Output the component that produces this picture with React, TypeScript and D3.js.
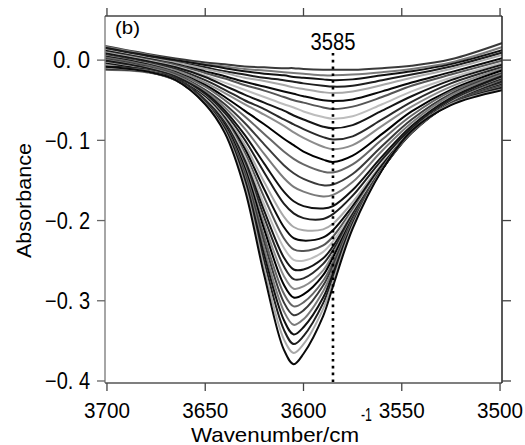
import React from "react";
import * as d3 from "d3";

// Wavenumber sampling grid (cm^-1) for every spectrum below
const wavenumbers = [3702, 3680, 3665, 3650, 3640, 3630, 3620, 3610, 3605, 3600, 3590, 3585, 3575, 3560, 3545, 3525, 3498];

// Absorbance spectra, from the shallowest to the deepest
const spectra: number[][] = [
  [0.018, 0.008, 0.002, -0.003, -0.005, -0.008, -0.009, -0.010, -0.010, -0.011, -0.012, -0.012, -0.012, -0.010, -0.007, 0.001, 0.022],
  [0.017, 0.007, 0.000, -0.005, -0.008, -0.011, -0.013, -0.015, -0.016, -0.017, -0.019, -0.019, -0.018, -0.015, -0.011, -0.003, 0.017],
  [0.016, 0.006, 0.000, -0.006, -0.010, -0.014, -0.017, -0.019, -0.021, -0.022, -0.024, -0.025, -0.024, -0.019, -0.014, -0.005, 0.013],
  [0.015, 0.005, -0.002, -0.009, -0.014, -0.018, -0.022, -0.025, -0.027, -0.029, -0.032, -0.033, -0.032, -0.025, -0.018, -0.008, 0.010],
  [0.013, 0.003, -0.003, -0.011, -0.016, -0.022, -0.026, -0.031, -0.034, -0.036, -0.040, -0.041, -0.039, -0.031, -0.022, -0.011, 0.007],
  [0.012, 0.002, -0.005, -0.014, -0.020, -0.027, -0.033, -0.039, -0.042, -0.045, -0.050, -0.051, -0.049, -0.039, -0.028, -0.015, 0.003],
  [0.011, 0.001, -0.006, -0.016, -0.023, -0.031, -0.038, -0.046, -0.050, -0.053, -0.059, -0.061, -0.058, -0.046, -0.032, -0.018, 0.000],
  [0.010, 0.000, -0.008, -0.019, -0.028, -0.037, -0.046, -0.055, -0.059, -0.064, -0.071, -0.073, -0.070, -0.055, -0.039, -0.022, -0.003],
  [0.009, -0.001, -0.009, -0.021, -0.032, -0.043, -0.053, -0.063, -0.069, -0.074, -0.083, -0.085, -0.081, -0.063, -0.045, -0.025, -0.005],
  [0.007, -0.003, -0.011, -0.025, -0.037, -0.050, -0.061, -0.074, -0.080, -0.086, -0.096, -0.099, -0.095, -0.074, -0.052, -0.029, -0.008],
  [0.006, -0.004, -0.013, -0.028, -0.041, -0.055, -0.068, -0.082, -0.090, -0.097, -0.108, -0.111, -0.106, -0.082, -0.058, -0.033, -0.010],
  [0.005, -0.005, -0.015, -0.031, -0.046, -0.063, -0.080, -0.098, -0.106, -0.114, -0.124, -0.127, -0.119, -0.092, -0.064, -0.037, -0.012],
  [0.004, -0.006, -0.016, -0.033, -0.050, -0.070, -0.092, -0.114, -0.123, -0.130, -0.139, -0.140, -0.130, -0.099, -0.069, -0.039, -0.015],
  [0.002, -0.008, -0.018, -0.037, -0.055, -0.078, -0.105, -0.131, -0.141, -0.148, -0.156, -0.155, -0.142, -0.107, -0.074, -0.042, -0.016],
  [0.001, -0.009, -0.019, -0.039, -0.059, -0.085, -0.117, -0.147, -0.158, -0.164, -0.170, -0.168, -0.152, -0.113, -0.078, -0.044, -0.017],
  [0.000, -0.010, -0.021, -0.041, -0.063, -0.093, -0.129, -0.164, -0.176, -0.182, -0.185, -0.182, -0.162, -0.120, -0.082, -0.047, -0.019],
  [-0.001, -0.011, -0.021, -0.043, -0.066, -0.099, -0.140, -0.179, -0.191, -0.197, -0.198, -0.192, -0.169, -0.124, -0.085, -0.049, -0.021],
  [-0.003, -0.012, -0.023, -0.045, -0.070, -0.105, -0.152, -0.195, -0.208, -0.212, -0.211, -0.204, -0.177, -0.129, -0.088, -0.051, -0.022],
  [-0.004, -0.013, -0.024, -0.046, -0.072, -0.110, -0.161, -0.208, -0.222, -0.225, -0.221, -0.212, -0.182, -0.131, -0.089, -0.051, -0.023],
  [-0.005, -0.014, -0.025, -0.048, -0.074, -0.115, -0.171, -0.222, -0.236, -0.238, -0.231, -0.220, -0.186, -0.134, -0.090, -0.052, -0.024],
  [-0.006, -0.014, -0.025, -0.048, -0.076, -0.119, -0.180, -0.234, -0.249, -0.250, -0.239, -0.226, -0.189, -0.135, -0.090, -0.053, -0.026],
  [-0.008, -0.012, -0.022, -0.050, -0.078, -0.124, -0.188, -0.246, -0.261, -0.261, -0.247, -0.232, -0.192, -0.136, -0.091, -0.054, -0.026],
  [-0.009, -0.012, -0.022, -0.050, -0.079, -0.127, -0.196, -0.257, -0.273, -0.272, -0.254, -0.237, -0.194, -0.136, -0.090, -0.054, -0.027],
  [-0.010, -0.013, -0.023, -0.051, -0.081, -0.131, -0.204, -0.269, -0.285, -0.282, -0.262, -0.242, -0.196, -0.136, -0.090, -0.054, -0.029],
  [-0.011, -0.014, -0.023, -0.051, -0.081, -0.134, -0.211, -0.280, -0.296, -0.292, -0.268, -0.246, -0.197, -0.136, -0.090, -0.054, -0.030],
  [-0.012, -0.015, -0.024, -0.052, -0.083, -0.138, -0.220, -0.291, -0.307, -0.302, -0.275, -0.252, -0.199, -0.136, -0.090, -0.054, -0.031],
  [-0.011, -0.014, -0.024, -0.052, -0.084, -0.141, -0.227, -0.302, -0.318, -0.312, -0.281, -0.256, -0.200, -0.135, -0.089, -0.054, -0.032],
  [-0.010, -0.014, -0.024, -0.053, -0.085, -0.145, -0.235, -0.313, -0.330, -0.323, -0.288, -0.261, -0.202, -0.136, -0.089, -0.055, -0.033],
  [-0.010, -0.014, -0.024, -0.053, -0.086, -0.148, -0.243, -0.324, -0.342, -0.333, -0.296, -0.266, -0.204, -0.136, -0.088, -0.055, -0.034],
  [-0.009, -0.014, -0.025, -0.054, -0.088, -0.152, -0.251, -0.336, -0.354, -0.344, -0.303, -0.271, -0.206, -0.136, -0.088, -0.055, -0.035],
  [-0.009, -0.014, -0.025, -0.054, -0.089, -0.155, -0.259, -0.348, -0.365, -0.354, -0.310, -0.276, -0.207, -0.136, -0.088, -0.055, -0.036],
  [-0.008, -0.014, -0.025, -0.055, -0.091, -0.160, -0.268, -0.361, -0.379, -0.366, -0.319, -0.282, -0.210, -0.137, -0.088, -0.056, -0.037],
];

const lineColors = ["#3a3a3a", "#7a7a7a", "#111111", "#1e1e1e", "#a8a8a8", "#0a0a0a", "#555555", "#bdbdbd", "#151515", "#2a2a2a", "#8c8c8c", "#000000", "#666666"];

const xTicks = [3700, 3650, 3600, 3550, 3500];
const xTickLabels = ["3700", "3650", "3600", "3550", "3500"];
const yTicks = [0, -0.1, -0.2, -0.3, -0.4];
const yTickLabels = ["0. 0", "\u22120. 1", "\u22120. 2", "\u22120. 3", "\u22120. 4"];
const markerWavenumber = 3585;
const markerLabel = "3585";
const panelLabel = "(b)";
const xTitle = "Wavenumber/cm";
const xTitleSup = "-1";
const yTitle = "Absorbance";

export default function App() {
  const left = 105, right = 502, top = 16, bottom = 383;
  const x = d3.scaleLinear().domain([3701, 3499]).range([left, right]);
  const y = d3.scaleLinear().domain([0.055, -0.4025]).range([top, bottom]);
  const line = d3
    .line<number>()
    .x((_, i) => x(wavenumbers[i]))
    .y((d) => y(d))
    .curve(d3.curveCatmullRom.alpha(0.5));
  const font = "'Liberation Sans', Arial, sans-serif";

  return (
    <svg
      width={525}
      height={445}
      style={{ position: "absolute", left: 0, top: 0, background: "#fff" }}
      fontFamily={font}
    >
      <defs>
        <clipPath id="plotClip">
          <rect x={left} y={top} width={right - left} height={bottom - top} />
        </clipPath>
      </defs>
      <g clipPath="url(#plotClip)">
        {spectra.map((s, k) => (
          <path
            key={k}
            d={line(s) || ""}
            fill="none"
            stroke={lineColors[k % lineColors.length]}
            strokeWidth={2}
            strokeLinejoin="round"
          />
        ))}
      </g>
      {/* marker line */}
      <line
        x1={x(markerWavenumber)}
        x2={x(markerWavenumber)}
        y1={53}
        y2={bottom}
        stroke="#000"
        strokeWidth={2.6}
        strokeDasharray="2.6 4.2"
      />
      <text x={x(markerWavenumber)} y={50} textAnchor="middle" fontSize={23} textLength={45} lengthAdjust="spacingAndGlyphs">
        {markerLabel}
      </text>
      {/* frame */}
      <line x1={left} x2={left} y1={top} y2={bottom} stroke="#888" strokeWidth={1.5} />
      <line x1={left} x2={right} y1={bottom} y2={bottom} stroke="#555" strokeWidth={1.5} />
      <line x1={left} x2={right} y1={top} y2={top} stroke="#444" strokeWidth={1.5} />
      <line x1={right} x2={right} y1={top} y2={bottom} stroke="#222" strokeWidth={1.5} />
      {/* x ticks */}
      {xTicks.map((t, i) => (
        <g key={t}>
          <line x1={x(t)} x2={x(t)} y1={bottom} y2={bottom + 8} stroke="#444" strokeWidth={1.3} />
          <line x1={x(t)} x2={x(t)} y1={top} y2={top - 8} stroke="#444" strokeWidth={1.3} />
          <text x={x(t)} y={418} textAnchor="middle" fontSize={22} textLength={46} lengthAdjust="spacingAndGlyphs">
            {xTickLabels[i]}
          </text>
        </g>
      ))}
      {/* y ticks */}
      {yTicks.map((t, i) => (
        <g key={t}>
          <line x1={left} x2={left - 8} y1={y(t)} y2={y(t)} stroke="#666" strokeWidth={1.3} />
          <line x1={right} x2={right + 9} y1={y(t)} y2={y(t)} stroke="#444" strokeWidth={1.3} />
          <text
            x={90}
            y={y(t) + 8.3}
            textAnchor="end"
            fontSize={23}
            textLength={i === 0 ? 37 : 45}
            lengthAdjust="spacingAndGlyphs"
          >
            {yTickLabels[i]}
          </text>
        </g>
      ))}
      <text x={115} y={34} fontSize={18} textLength={25} lengthAdjust="spacingAndGlyphs">
        {panelLabel}
      </text>
      <text x={191} y={442} fontSize={21} textLength={168} lengthAdjust="spacingAndGlyphs">
        {xTitle}
      </text>
      <text x={361} y={421} fontSize={18} textLength={11} lengthAdjust="spacingAndGlyphs">
        {xTitleSup}
      </text>
      <text
        transform="translate(31,200.5) rotate(-90)"
        textAnchor="middle"
        fontSize={21}
        textLength={115}
        lengthAdjust="spacingAndGlyphs"
      >
        {yTitle}
      </text>
    </svg>
  );
}
